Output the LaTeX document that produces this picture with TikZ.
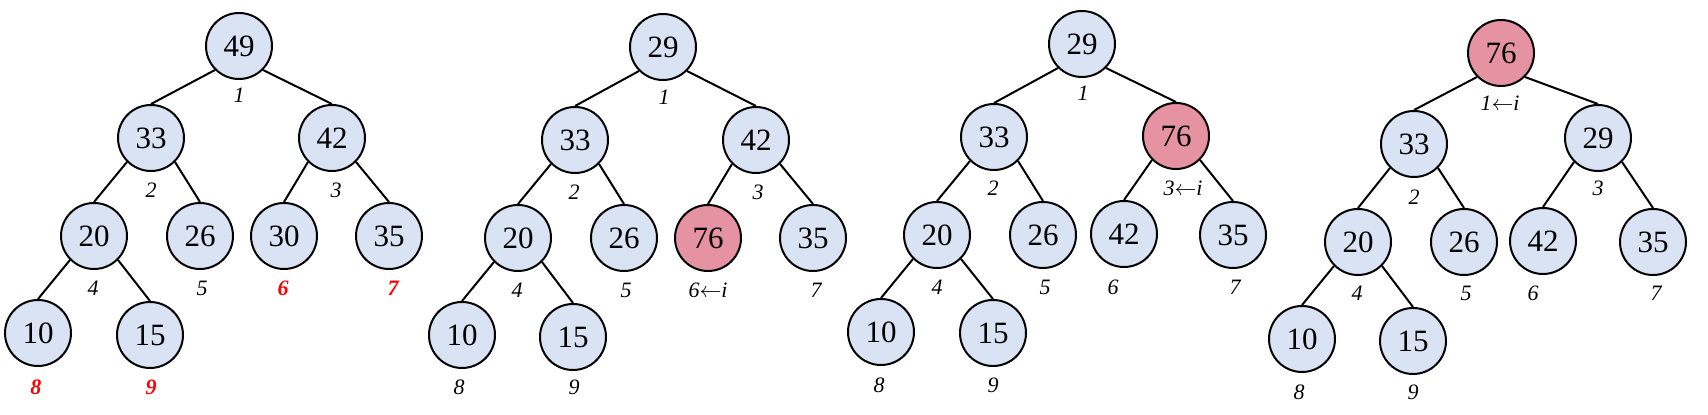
\documentclass[tikz,border=0pt]{standalone}
\usepackage{fontspec}
\setmainfont{Liberation Serif}
\definecolor{nodeblue}{HTML}{DAE3F3}
\definecolor{nodepink}{HTML}{E593A3}
\begin{document}
\begin{tikzpicture}[x=0.5pt,y=-0.5pt,
 nd/.style={circle,draw=black,line width=1pt,fill=nodeblue,minimum size=33pt,inner sep=0pt,font=\fontsize{15.5}{16}\selectfont},
 hot/.style={nd,fill=nodepink},
 lbl/.style={font=\fontsize{11}{11}\selectfont\itshape,inner sep=0pt},
 redlbl/.style={lbl,text=red,font=\fontsize{11}{11}\selectfont\bfseries\itshape},
 edge/.style={line width=1pt}]
\useasboundingbox (0,0) rectangle (1708,415);
% ---------- tree 1 ----------
\node[nd] (a1) at (239,46) {49};
\node[nd] (a2) at (151,138) {33};
\node[nd] (a3) at (332,138) {42};
\node[nd] (a4) at (94,236) {20};
\node[nd] (a5) at (200,236) {26};
\node[nd] (a6) at (284,236) {30};
\node[nd] (a7) at (389,236) {35};
\node[nd] (a8) at (38,333) {10};
\node[nd] (a9) at (150,335) {15};
\draw[edge] (a1.south west)--(a2.north) (a1.south east)--(a3.north)
 (a2.south west)--(a4.north) (a2.south east)--(a5.north)
 (a3.south west)--(a6.north) (a3.south east)--(a7.north)
 (a4.south west)--(a8.north) (a4.south east)--(a9.north);
\node[lbl] (la1) at (239,95) {1};
\node[lbl] (la2) at (151,190) {2};
\node[lbl] (la3) at (336,190) {3};
\node[lbl] (la4) at (93,288) {4};
\node[lbl] (la5) at (202,288) {5};
\node[redlbl] (la6) at (283,288) {6};
\node[redlbl] (la7) at (393,288) {7};
\node[redlbl] (la8) at (36,387) {8};
\node[redlbl] (la9) at (151,387) {9};
% ---------- tree 2 ----------
\node[nd] (b1) at (663,47) {29};
\node[nd] (b2) at (575,140) {33};
\node[nd] (b3) at (756,140) {42};
\node[nd] (b4) at (518,238) {20};
\node[nd] (b5) at (624,238) {26};
\node[hot] (b6) at (708,238) {76};
\node[nd] (b7) at (813,238) {35};
\node[nd] (b8) at (462,335) {10};
\node[nd] (b9) at (573,337) {15};
\draw[edge] (b1.south west)--(b2.north) (b1.south east)--(b3.north)
 (b2.south west)--(b4.north) (b2.south east)--(b5.north)
 (b3.south west)--(b6.north) (b3.south east)--(b7.north)
 (b4.south west)--(b8.north) (b4.south east)--(b9.north);
\node[lbl] (lb1) at (664,97) {1};
\node[lbl] (lb2) at (574,192) {2};
\node[lbl] (lb3) at (758,192) {3};
\node[lbl] (lb4) at (517,290) {4};
\node[lbl] (lb5) at (626,290) {5};
\node[lbl] (lb6) at (708,290) {6$\leftarrow$\textit{i}};
\node[lbl] (lb7) at (816,290) {7};
\node[lbl] (lb8) at (459,387) {8};
\node[lbl] (lb9) at (574,387) {9};
% ---------- tree 3 ----------
\node[nd] (c1) at (1082,44) {29};
\node[nd] (c2) at (994,137) {33};
\node[hot] (c3) at (1176,136) {76};
\node[nd] (c4) at (937,235) {20};
\node[nd] (c5) at (1043,235) {26};
\node[nd] (c6) at (1124,234) {42};
\node[nd] (c7) at (1233,235) {35};
\node[nd] (c8) at (881,332) {10};
\node[nd] (c9) at (993,333) {15};
\draw[edge] (c1.south west)--(c2.north) (c1.south east)--(c3.north)
 (c2.south west)--(c4.north) (c2.south east)--(c5.north)
 (c3.south west)--(c6.north) (c3.south east)--(c7.north)
 (c4.south west)--(c8.north) (c4.south east)--(c9.north);
\node[lbl] (lc1) at (1083,93) {1};
\node[lbl] (lc2) at (993,188) {2};
\node[lbl] (lc3) at (1183,188) {3$\leftarrow$\textit{i}};
\node[lbl] (lc4) at (937,287) {4};
\node[lbl] (lc5) at (1045,287) {5};
\node[lbl] (lc6) at (1113,287) {6};
\node[lbl] (lc7) at (1235,287) {7};
\node[lbl] (lc8) at (879,385) {8};
\node[lbl] (lc9) at (993,385) {9};
% ---------- tree 4 ----------
\node[hot] (d1) at (1501,53) {76};
\node[nd] (d2) at (1414,144) {33};
\node[nd] (d3) at (1598,138) {29};
\node[nd] (d4) at (1358,242) {20};
\node[nd] (d5) at (1464,242) {26};
\node[nd] (d6) at (1543,241) {42};
\node[nd] (d7) at (1653,242) {35};
\node[nd] (d8) at (1302,339) {10};
\node[nd] (d9) at (1413,341) {15};
\draw[edge] (d1.south west)--(d2.north) (d1.south east)--(d3.north)
 (d2.south west)--(d4.north) (d2.south east)--(d5.north)
 (d3.south west)--(d6.north) (d3.south east)--(d7.north)
 (d4.south west)--(d8.north) (d4.south east)--(d9.north);
\node[lbl] (ld1) at (1500,103) {1$\leftarrow$\textit{i}};
\node[lbl] (ld2) at (1414,197) {2};
\node[lbl] (ld3) at (1598,188) {3};
\node[lbl] (ld4) at (1357,293) {4};
\node[lbl] (ld5) at (1466,293) {5};
\node[lbl] (ld6) at (1533,293) {6};
\node[lbl] (ld7) at (1656,293) {7};
\node[lbl] (ld8) at (1299,392) {8};
\node[lbl] (ld9) at (1413,392) {9};
\end{tikzpicture}
\end{document}
